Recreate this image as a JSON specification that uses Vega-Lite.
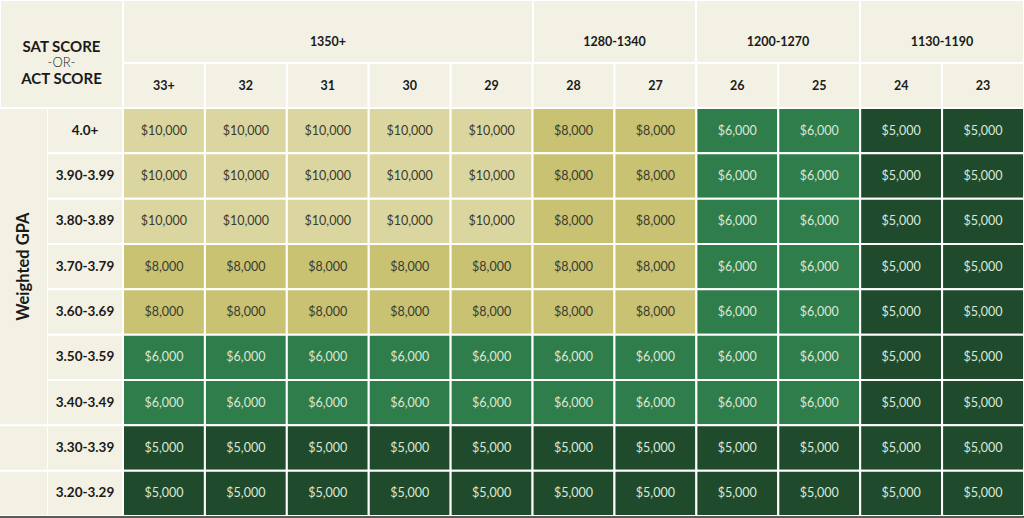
{
  "$schema": "https://vega.github.io/schema/vega-lite/v6.json",
  "padding": 0,
  "background": "#f2f1e3",
  "spacing": 0,
  "config": {
    "view": {"stroke": null},
    "concat": {"spacing": 0},
    "font": "Lato"
  },
  "datasets": {
    "gpas": [
      {"gpa": "4.0+", "section": "A"},
      {"gpa": "3.90-3.99", "section": "A"},
      {"gpa": "3.80-3.89", "section": "A"},
      {"gpa": "3.70-3.79", "section": "A"},
      {"gpa": "3.60-3.69", "section": "A"},
      {"gpa": "3.50-3.59", "section": "A"},
      {"gpa": "3.40-3.49", "section": "A"},
      {"gpa": "3.30-3.39", "section": "B"},
      {"gpa": "3.20-3.29", "section": "C"}
    ],
    "acts": [
      {"act": "33+"}, {"act": "32"}, {"act": "31"}, {"act": "30"}, {"act": "29"},
      {"act": "28"}, {"act": "27"}, {"act": "26"}, {"act": "25"}, {"act": "24"}, {"act": "23"}
    ],
    "corner": [
      {"line": "SAT SCORE", "kind": "top"},
      {"line": "-OR-", "kind": "middle"},
      {"line": "ACT SCORE", "kind": "bottom"}
    ],
    "cells": [
      {"gpa": "4.0+", "act": "33+", "award": 10000},
      {"gpa": "4.0+", "act": "32", "award": 10000},
      {"gpa": "4.0+", "act": "31", "award": 10000},
      {"gpa": "4.0+", "act": "30", "award": 10000},
      {"gpa": "4.0+", "act": "29", "award": 10000},
      {"gpa": "4.0+", "act": "28", "award": 8000},
      {"gpa": "4.0+", "act": "27", "award": 8000},
      {"gpa": "4.0+", "act": "26", "award": 6000},
      {"gpa": "4.0+", "act": "25", "award": 6000},
      {"gpa": "4.0+", "act": "24", "award": 5000},
      {"gpa": "4.0+", "act": "23", "award": 5000},
      {"gpa": "3.90-3.99", "act": "33+", "award": 10000},
      {"gpa": "3.90-3.99", "act": "32", "award": 10000},
      {"gpa": "3.90-3.99", "act": "31", "award": 10000},
      {"gpa": "3.90-3.99", "act": "30", "award": 10000},
      {"gpa": "3.90-3.99", "act": "29", "award": 10000},
      {"gpa": "3.90-3.99", "act": "28", "award": 8000},
      {"gpa": "3.90-3.99", "act": "27", "award": 8000},
      {"gpa": "3.90-3.99", "act": "26", "award": 6000},
      {"gpa": "3.90-3.99", "act": "25", "award": 6000},
      {"gpa": "3.90-3.99", "act": "24", "award": 5000},
      {"gpa": "3.90-3.99", "act": "23", "award": 5000},
      {"gpa": "3.80-3.89", "act": "33+", "award": 10000},
      {"gpa": "3.80-3.89", "act": "32", "award": 10000},
      {"gpa": "3.80-3.89", "act": "31", "award": 10000},
      {"gpa": "3.80-3.89", "act": "30", "award": 10000},
      {"gpa": "3.80-3.89", "act": "29", "award": 10000},
      {"gpa": "3.80-3.89", "act": "28", "award": 8000},
      {"gpa": "3.80-3.89", "act": "27", "award": 8000},
      {"gpa": "3.80-3.89", "act": "26", "award": 6000},
      {"gpa": "3.80-3.89", "act": "25", "award": 6000},
      {"gpa": "3.80-3.89", "act": "24", "award": 5000},
      {"gpa": "3.80-3.89", "act": "23", "award": 5000},
      {"gpa": "3.70-3.79", "act": "33+", "award": 8000},
      {"gpa": "3.70-3.79", "act": "32", "award": 8000},
      {"gpa": "3.70-3.79", "act": "31", "award": 8000},
      {"gpa": "3.70-3.79", "act": "30", "award": 8000},
      {"gpa": "3.70-3.79", "act": "29", "award": 8000},
      {"gpa": "3.70-3.79", "act": "28", "award": 8000},
      {"gpa": "3.70-3.79", "act": "27", "award": 8000},
      {"gpa": "3.70-3.79", "act": "26", "award": 6000},
      {"gpa": "3.70-3.79", "act": "25", "award": 6000},
      {"gpa": "3.70-3.79", "act": "24", "award": 5000},
      {"gpa": "3.70-3.79", "act": "23", "award": 5000},
      {"gpa": "3.60-3.69", "act": "33+", "award": 8000},
      {"gpa": "3.60-3.69", "act": "32", "award": 8000},
      {"gpa": "3.60-3.69", "act": "31", "award": 8000},
      {"gpa": "3.60-3.69", "act": "30", "award": 8000},
      {"gpa": "3.60-3.69", "act": "29", "award": 8000},
      {"gpa": "3.60-3.69", "act": "28", "award": 8000},
      {"gpa": "3.60-3.69", "act": "27", "award": 8000},
      {"gpa": "3.60-3.69", "act": "26", "award": 6000},
      {"gpa": "3.60-3.69", "act": "25", "award": 6000},
      {"gpa": "3.60-3.69", "act": "24", "award": 5000},
      {"gpa": "3.60-3.69", "act": "23", "award": 5000},
      {"gpa": "3.50-3.59", "act": "33+", "award": 6000},
      {"gpa": "3.50-3.59", "act": "32", "award": 6000},
      {"gpa": "3.50-3.59", "act": "31", "award": 6000},
      {"gpa": "3.50-3.59", "act": "30", "award": 6000},
      {"gpa": "3.50-3.59", "act": "29", "award": 6000},
      {"gpa": "3.50-3.59", "act": "28", "award": 6000},
      {"gpa": "3.50-3.59", "act": "27", "award": 6000},
      {"gpa": "3.50-3.59", "act": "26", "award": 6000},
      {"gpa": "3.50-3.59", "act": "25", "award": 6000},
      {"gpa": "3.50-3.59", "act": "24", "award": 5000},
      {"gpa": "3.50-3.59", "act": "23", "award": 5000},
      {"gpa": "3.40-3.49", "act": "33+", "award": 6000},
      {"gpa": "3.40-3.49", "act": "32", "award": 6000},
      {"gpa": "3.40-3.49", "act": "31", "award": 6000},
      {"gpa": "3.40-3.49", "act": "30", "award": 6000},
      {"gpa": "3.40-3.49", "act": "29", "award": 6000},
      {"gpa": "3.40-3.49", "act": "28", "award": 6000},
      {"gpa": "3.40-3.49", "act": "27", "award": 6000},
      {"gpa": "3.40-3.49", "act": "26", "award": 6000},
      {"gpa": "3.40-3.49", "act": "25", "award": 6000},
      {"gpa": "3.40-3.49", "act": "24", "award": 5000},
      {"gpa": "3.40-3.49", "act": "23", "award": 5000},
      {"gpa": "3.30-3.39", "act": "33+", "award": 5000},
      {"gpa": "3.30-3.39", "act": "32", "award": 5000},
      {"gpa": "3.30-3.39", "act": "31", "award": 5000},
      {"gpa": "3.30-3.39", "act": "30", "award": 5000},
      {"gpa": "3.30-3.39", "act": "29", "award": 5000},
      {"gpa": "3.30-3.39", "act": "28", "award": 5000},
      {"gpa": "3.30-3.39", "act": "27", "award": 5000},
      {"gpa": "3.30-3.39", "act": "26", "award": 5000},
      {"gpa": "3.30-3.39", "act": "25", "award": 5000},
      {"gpa": "3.30-3.39", "act": "24", "award": 5000},
      {"gpa": "3.30-3.39", "act": "23", "award": 5000},
      {"gpa": "3.20-3.29", "act": "33+", "award": 5000},
      {"gpa": "3.20-3.29", "act": "32", "award": 5000},
      {"gpa": "3.20-3.29", "act": "31", "award": 5000},
      {"gpa": "3.20-3.29", "act": "30", "award": 5000},
      {"gpa": "3.20-3.29", "act": "29", "award": 5000},
      {"gpa": "3.20-3.29", "act": "28", "award": 5000},
      {"gpa": "3.20-3.29", "act": "27", "award": 5000},
      {"gpa": "3.20-3.29", "act": "26", "award": 5000},
      {"gpa": "3.20-3.29", "act": "25", "award": 5000},
      {"gpa": "3.20-3.29", "act": "24", "award": 5000},
      {"gpa": "3.20-3.29", "act": "23", "award": 5000}
    ]
  },
  "vconcat": [
    {
      "spacing": 0,
      "hconcat": [
        {
          "width": 123,
          "height": 108,
          "data": {"name": "corner"},
          "layer": [
            {
              "mark": {"type": "rect", "fill": "#f2f1e3", "stroke": "white", "strokeWidth": 2, "clip": true},
              "encoding": {}
            },
            {
              "transform": [{"filter": "datum.kind == 'top'"}],
              "mark": {"type": "text", "fontWeight": "bold", "fontSize": 15, "dy": -7.5, "color": "#1a1a1a"},
              "encoding": {"text": {"field": "line"}}
            },
            {
              "transform": [{"filter": "datum.kind == 'middle'"}],
              "mark": {"type": "text", "fontWeight": 300, "fontSize": 13, "dy": 8.5, "color": "#1a1a1a"},
              "encoding": {"text": {"field": "line"}}
            },
            {
              "transform": [{"filter": "datum.kind == 'bottom'"}],
              "mark": {"type": "text", "fontWeight": "bold", "fontSize": 15, "dy": 24.5, "color": "#1a1a1a"},
              "encoding": {"text": {"field": "line"}}
            }
          ]
        },
        {
          "spacing": 0,
          "vconcat": [
            {
              "spacing": 0,
              "hconcat": [
                {
                  "width": 410, "height": 63,
                  "data": {"values": [{"sat": "1350+"}]},
                  "layer": [
                    {"mark": {"type": "rect", "fill": "#f2f1e3", "stroke": "white", "strokeWidth": 2, "clip": true}, "encoding": {}},
                    {"mark": {"type": "text", "fontWeight": "bold", "fontSize": 12.5, "dy": 10, "color": "#1a1a1a"}, "encoding": {"text": {"field": "sat"}}}
                  ]
                },
                {
                  "width": 163, "height": 63,
                  "data": {"values": [{"sat": "1280-1340"}]},
                  "layer": [
                    {"mark": {"type": "rect", "fill": "#f2f1e3", "stroke": "white", "strokeWidth": 2, "clip": true}, "encoding": {}},
                    {"mark": {"type": "text", "fontWeight": "bold", "fontSize": 12.5, "dy": 10, "color": "#1a1a1a"}, "encoding": {"text": {"field": "sat"}}}
                  ]
                },
                {
                  "width": 164, "height": 63,
                  "data": {"values": [{"sat": "1200-1270"}]},
                  "layer": [
                    {"mark": {"type": "rect", "fill": "#f2f1e3", "stroke": "white", "strokeWidth": 2, "clip": true}, "encoding": {}},
                    {"mark": {"type": "text", "fontWeight": "bold", "fontSize": 12.5, "dy": 10, "color": "#1a1a1a"}, "encoding": {"text": {"field": "sat"}}}
                  ]
                },
                {
                  "width": 164, "height": 63,
                  "data": {"values": [{"sat": "1130-1190"}]},
                  "layer": [
                    {"mark": {"type": "rect", "fill": "#f2f1e3", "stroke": "white", "strokeWidth": 2, "clip": true}, "encoding": {}},
                    {"mark": {"type": "text", "fontWeight": "bold", "fontSize": 12.5, "dy": 10, "color": "#1a1a1a"}, "encoding": {"text": {"field": "sat"}}}
                  ]
                }
              ]
            },
            {
              "width": 901, "height": 45,
              "data": {"name": "acts"},
              "encoding": {
                "x": {"field": "act", "type": "nominal", "axis": null,
                      "scale": {"domain": ["33+", "32", "31", "30", "29", "28", "27", "26", "25", "24", "23"], "paddingInner": 0, "paddingOuter": 0}}
              },
              "layer": [
                {"mark": {"type": "rect", "fill": "#f2f1e3", "stroke": "white", "strokeWidth": 2, "clip": true}},
                {"mark": {"type": "text", "fontWeight": "bold", "fontSize": 12.5, "color": "#1a1a1a"}, "encoding": {"text": {"field": "act"}}}
              ]
            }
          ]
        }
      ]
    },
    {
      "spacing": 0,
      "hconcat": [
        {
          "width": 47, "height": 408,
          "layer": [
            {
              "data": {"name": "gpas"},
              "transform": [
                {"window": [{"op": "row_number", "as": "pos"}], "groupby": ["section"]},
                {"filter": "datum.pos == 1"}
              ],
              "mark": {"type": "rule", "stroke": "white", "strokeWidth": 2, "clip": true},
              "encoding": {
                "y": {"field": "gpa", "type": "nominal", "axis": null, "bandPosition": 0,
                      "scale": {"type": "band", "domain": ["4.0+", "3.90-3.99", "3.80-3.89", "3.70-3.79", "3.60-3.69", "3.50-3.59", "3.40-3.49", "3.30-3.39", "3.20-3.29"], "paddingInner": 0, "paddingOuter": 0}}
              }
            },
            {
              "data": {"name": "gpas"},
              "transform": [{"filter": "datum.gpa == '3.20-3.29'"}],
              "mark": {"type": "rule", "stroke": "white", "strokeWidth": 2, "clip": true},
              "encoding": {
                "y": {"field": "gpa", "type": "nominal", "axis": null, "bandPosition": 1}
              }
            },
            {
              "data": {"values": [{"label": "Weighted GPA", "gpa": "3.70-3.79"}]},
              "mark": {"type": "text", "fontWeight": "bold", "fontSize": 16.5, "angle": 270, "color": "#1a1a1a"},
              "encoding": {
                "y": {"field": "gpa", "type": "nominal", "axis": null},
                "text": {"field": "label"}
              }
            }
          ]
        },
        {
          "width": 76, "height": 408,
          "data": {"name": "gpas"},
          "encoding": {
            "y": {"field": "gpa", "type": "nominal", "axis": null,
                  "scale": {"domain": ["4.0+", "3.90-3.99", "3.80-3.89", "3.70-3.79", "3.60-3.69", "3.50-3.59", "3.40-3.49", "3.30-3.39", "3.20-3.29"], "paddingInner": 0, "paddingOuter": 0}}
          },
          "layer": [
            {"mark": {"type": "rect", "fill": "#f2f1e3", "stroke": "white", "strokeWidth": 2, "clip": true}},
            {"mark": {"type": "text", "fontWeight": "bold", "fontSize": 13.5, "color": "#1a1a1a"}, "encoding": {"text": {"field": "gpa"}}}
          ]
        },
        {
          "width": 901, "height": 408,
          "data": {"name": "cells"},
          "encoding": {
            "x": {"field": "act", "type": "nominal", "axis": null,
                  "scale": {"domain": ["33+", "32", "31", "30", "29", "28", "27", "26", "25", "24", "23"], "paddingInner": 0, "paddingOuter": 0}},
            "y": {"field": "gpa", "type": "nominal", "axis": null,
                  "scale": {"domain": ["4.0+", "3.90-3.99", "3.80-3.89", "3.70-3.79", "3.60-3.69", "3.50-3.59", "3.40-3.49", "3.30-3.39", "3.20-3.29"], "paddingInner": 0, "paddingOuter": 0}}
          },
          "layer": [
            {
              "mark": {"type": "rect", "stroke": "white", "strokeWidth": 2, "opacity": 1, "clip": true},
              "encoding": {
                "fill": {"field": "award", "type": "ordinal", "legend": null,
                         "scale": {"domain": [10000, 8000, 6000, 5000], "range": ["#dbd69f", "#c8c272", "#2f7d4a", "#1f4b2c"]}}
              }
            },
            {
              "mark": {"type": "text", "fontSize": 12.5, "fontWeight": "normal"},
              "encoding": {
                "text": {"field": "award", "type": "quantitative", "format": "$,d"},
                "color": {"condition": {"test": "datum.award >= 8000", "value": "#3a3a30"}, "value": "#dbe7d8"}
              }
            }
          ]
        }
      ]
    },
    {
      "width": 1024, "height": 2,
      "data": {"values": [{"edge": "bottom"}]},
      "mark": {"type": "rect", "color": "#5a5a5a"},
      "encoding": {}
    }
  ]
}
